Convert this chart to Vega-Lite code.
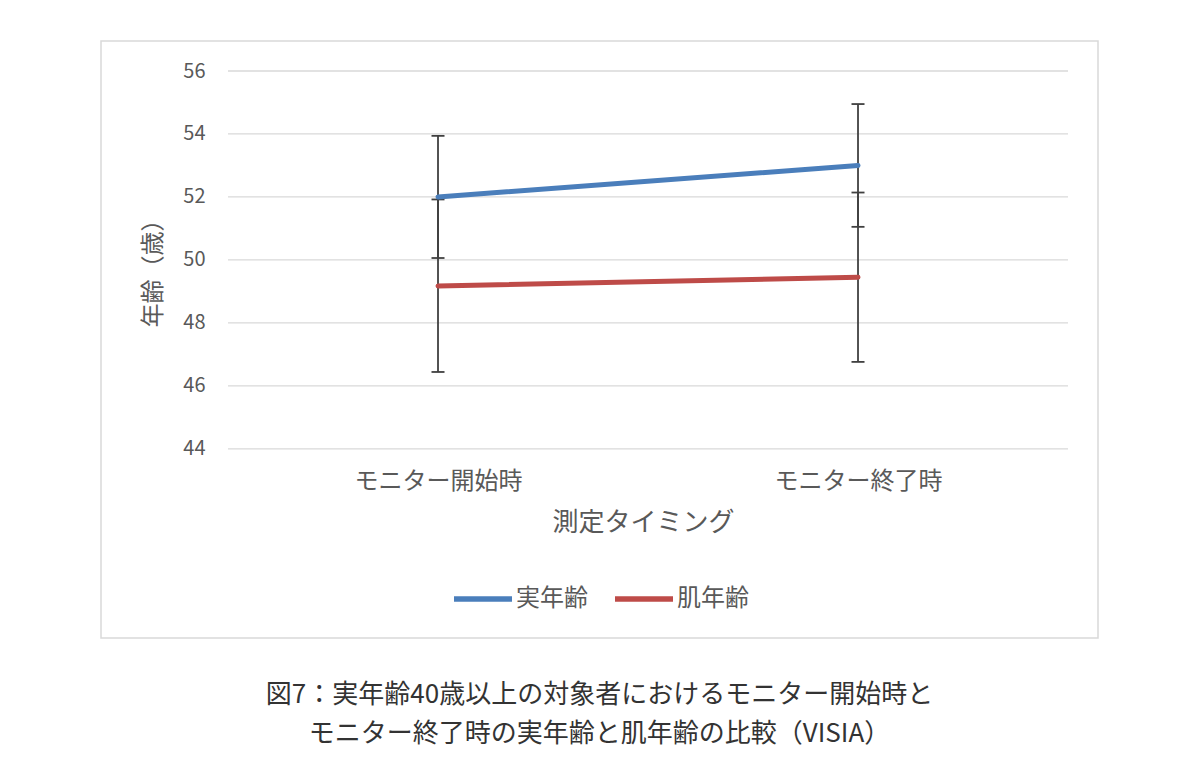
{
  "$schema": "https://vega.github.io/schema/vega-lite/v6.json",
  "width": 997,
  "height": 597,
  "autosize": {"type": "none"},
  "padding": {"left": 101, "top": 41, "right": 102, "bottom": 144},
  "background": "white",
  "title": {
    "text": ["図7：実年齢40歳以上の対象者におけるモニター開始時と", "モニター終了時の実年齢と肌年齢の比較（VISIA）"],
    "orient": "bottom",
    "anchor": "middle",
    "offset": 44,
    "fontSize": 26,
    "fontWeight": "normal",
    "lineHeight": 39,
    "color": "#333333",
    "font": "Noto Sans CJK JP"
  },
  "datasets": {
    "grid": [{"y": 44}, {"y": 46}, {"y": 48}, {"y": 50}, {"y": 52}, {"y": 54}, {"y": 56}],
    "ages": [
      {"timing": 1, "label": "モニター開始時", "series": "実年齢", "mean": 52.0, "lower": 50.06, "upper": 53.94},
      {"timing": 2, "label": "モニター終了時", "series": "実年齢", "mean": 53.0, "lower": 51.05, "upper": 54.95},
      {"timing": 1, "label": "モニター開始時", "series": "肌年齢", "mean": 49.17, "lower": 46.44, "upper": 51.92},
      {"timing": 2, "label": "モニター終了時", "series": "肌年齢", "mean": 49.45, "lower": 46.76, "upper": 52.14}
    ]
  },
  "encoding": {
    "x": {
      "type": "quantitative",
      "scale": {"domain": [0.19762, 2.5714], "nice": false, "zero": false},
      "axis": {
        "orient": "bottom",
        "offset": -189.3,
        "values": [1, 2],
        "labelExpr": "datum.value == 1 ? 'モニター開始時' : 'モニター終了時'",
        "domain": false,
        "ticks": false,
        "grid": false,
        "labelPadding": 21,
        "labelFontSize": 24,
        "labelColor": "#595959",
        "title": "測定タイミング",
        "titleFontSize": 26,
        "titleFontWeight": "normal",
        "titleColor": "#595959",
        "titleX": 542,
        "titleY": 74,
        "titleAlign": "center",
        "titleBaseline": "middle"
      }
    },
    "y": {
      "type": "quantitative",
      "scale": {"domain": [37.99, 56.953], "nice": false, "zero": false},
      "axis": {
        "orient": "left",
        "offset": -127,
        "values": [44, 46, 48, 50, 52, 54, 56],
        "domain": false,
        "ticks": false,
        "grid": false,
        "labelPadding": 23,
        "labelFontSize": 20,
        "labelColor": "#595959",
        "title": "年齢（歳）",
        "titleFontSize": 24,
        "titleFontWeight": "normal",
        "titleColor": "#595959",
        "titleAngle": -90,
        "titleX": -75,
        "titleY": 226,
        "titleAlign": "center",
        "titleBaseline": "middle"
      }
    }
  },
  "layer": [
    {
      "data": {"name": "grid"},
      "mark": {"type": "rule", "color": "#d9d9d9", "strokeWidth": 1.3},
      "encoding": {
        "x": {"datum": 0.5},
        "x2": {"datum": 2.5},
        "y": {"field": "y"}
      }
    },
    {
      "data": {"name": "ages"},
      "mark": {"type": "rule", "color": "#404040", "strokeWidth": 1.8},
      "encoding": {
        "x": {"field": "timing"},
        "y": {"field": "lower"},
        "y2": {"field": "upper"}
      }
    },
    {
      "data": {"name": "ages"},
      "mark": {"type": "tick", "orient": "horizontal", "color": "#404040", "thickness": 1.8, "size": 13, "opacity": 1},
      "encoding": {
        "x": {"field": "timing"},
        "y": {"field": "lower"}
      }
    },
    {
      "data": {"name": "ages"},
      "mark": {"type": "tick", "orient": "horizontal", "color": "#404040", "thickness": 1.8, "size": 13, "opacity": 1},
      "encoding": {
        "x": {"field": "timing"},
        "y": {"field": "upper"}
      }
    },
    {
      "data": {"name": "ages"},
      "mark": {"type": "line", "strokeWidth": 5, "strokeCap": "round"},
      "encoding": {
        "x": {"field": "timing"},
        "y": {"field": "mean"},
        "color": {
          "field": "series",
          "type": "nominal",
          "sort": ["実年齢", "肌年齢"],
          "scale": {"domain": ["実年齢", "肌年齢"], "range": ["#4a7ebb", "#be4b48"]},
          "legend": {
            "orient": "none",
            "direction": "horizontal",
            "legendX": 350,
            "legendY": 526,
            "title": null,
            "symbolType": "stroke",
            "symbolSize": 3364,
            "symbolStrokeWidth": 5.5,
            "labelFontSize": 24,
            "labelColor": "#595959",
            "labelOffset": 1,
            "columnPadding": 16,
            "padding": 0
          }
        }
      }
    }
  ],
  "config": {
    "font": "Noto Sans CJK JP",
    "view": {"stroke": "#d9d9d9", "strokeWidth": 1.5}
  }
}
